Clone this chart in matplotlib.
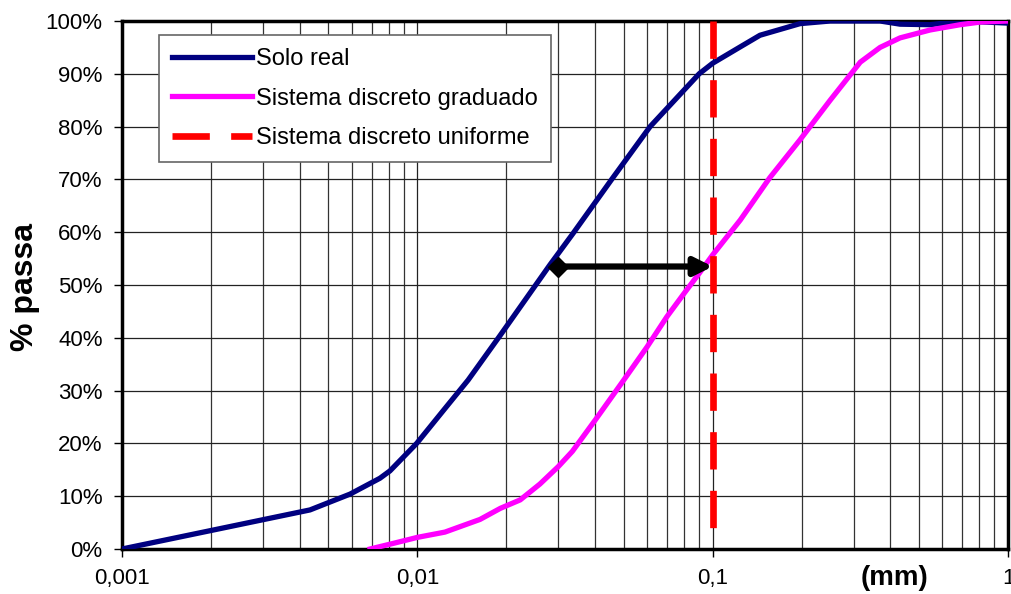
import numpy as np
import matplotlib.pyplot as plt
from matplotlib.ticker import FixedLocator, LogLocator, NullFormatter

plt.rcParams['font.family'] = ['Liberation Sans', 'DejaVu Sans']

# curva granulométrica do solo real (diâmetro em mm, % passante)
solo_d = [0.001, 0.00433, 0.00592, 0.00747, 0.00808, 0.00995, 0.0124, 0.01486,
          0.0191, 0.0281, 0.0337, 0.0455, 0.0614, 0.09, 0.1, 0.124, 0.1446,
          0.1976, 0.25, 0.369, 0.431, 0.545, 0.7, 1.0]
solo_p = [0.0, 7.4, 10.4, 13.4, 14.8, 20.0, 26.6, 32.0, 40.5, 53.8, 59.8, 70.0,
          80.0, 90.0, 92.0, 95.1, 97.3, 99.5, 100.0, 100.0, 99.4, 99.3, 100.0, 99.6]

# sistema discreto graduado
grad_d = [0.00692, 0.0082, 0.01, 0.0124, 0.0163, 0.0191, 0.0223, 0.026, 0.03,
          0.0335, 0.04, 0.05, 0.06, 0.07, 0.08, 0.09, 0.1, 0.124, 0.156, 0.1976,
          0.25, 0.316, 0.369, 0.431, 0.545, 0.689, 0.806, 1.0]
grad_p = [0.0, 1.0, 2.2, 3.2, 5.6, 7.7, 9.3, 12.3, 15.6, 18.5, 24.4, 32.0, 38.3,
          44.0, 48.4, 52.2, 55.7, 62.3, 70.3, 77.5, 85.0, 92.2, 95.0, 96.8, 98.3,
          99.3, 99.8, 100.0]

# sistema discreto uniforme (diâmetro único), traçado de cima para baixo
unif_d = [0.1, 0.1]
unif_p = [100.0, 3.0]

# seta entre as curvas
seta_de = 0.03
seta_ate = 0.1
seta_p = 53.5

xticks = [0.001, 0.01, 0.1, 1]
xtick_labels = ['0,001', '0,01', '0,1', '1']
yticks = np.arange(0, 101, 10)

fig = plt.figure(figsize=(10.11, 5.94), dpi=100)
ax = fig.add_axes([122 / 1011, 1 - 549 / 594, 886 / 1011, 528 / 594])

ax.plot(solo_d, solo_p, color='#000080', lw=3.8, label='Solo real', zorder=3)
ax.plot(grad_d, grad_p, color='#ff00ff', lw=3.8, label='Sistema discreto graduado', zorder=3)
ax.plot(unif_d, unif_p, color='#ff0000', lw=4.8, dashes=(5.6, 3.2),
        label='Sistema discreto uniforme', zorder=4)

ax.annotate('', xy=(seta_ate, seta_p), xytext=(seta_de, seta_p),
            arrowprops=dict(arrowstyle='-|>', color='black', lw=4.5,
                            mutation_scale=27, shrinkA=0, shrinkB=0), zorder=5)
ax.plot([seta_de], [seta_p], marker='D', color='black', ms=10, zorder=5)

ax.set_xscale('log')
ax.set_xlim(0.001, 1)
ax.set_ylim(0, 100)
ax.xaxis.set_major_locator(FixedLocator(xticks))
ax.set_xticklabels(xtick_labels)
ax.xaxis.set_minor_locator(LogLocator(base=10, subs=np.arange(2, 10)))
ax.xaxis.set_minor_formatter(NullFormatter())
ax.set_yticks(yticks)
ax.set_yticklabels([f'{v}%' for v in yticks])

ax.grid(True, which='major', color='#222222', lw=0.9)
ax.grid(True, which='minor', axis='x', color='#333333', lw=0.9)
ax.tick_params(which='major', direction='out', length=6, width=1, labelsize=16, pad=8)
ax.tick_params(which='minor', length=0)
for s in ax.spines.values():
    s.set_linewidth(2.5)

ax.text(0.872, -0.055, '(mm)', transform=ax.transAxes, ha='center', va='center',
        fontsize=20, fontweight='bold')
fig.text(25 / 1011, 1 - 287 / 594, '% passa', rotation=90, ha='center', va='center',
         fontsize=23, fontweight='bold')

leg = ax.legend(loc='upper left', bbox_to_anchor=(37 / 886, 1 - 14 / 528), fontsize=17,
                frameon=True, fancybox=False, edgecolor='#666666', framealpha=1,
                borderaxespad=0, handlelength=3.4, handletextpad=0.15,
                labelspacing=0.75, borderpad=0.55)
leg.get_frame().set_linewidth(1.2)

fig.savefig('out.png', dpi=100)
